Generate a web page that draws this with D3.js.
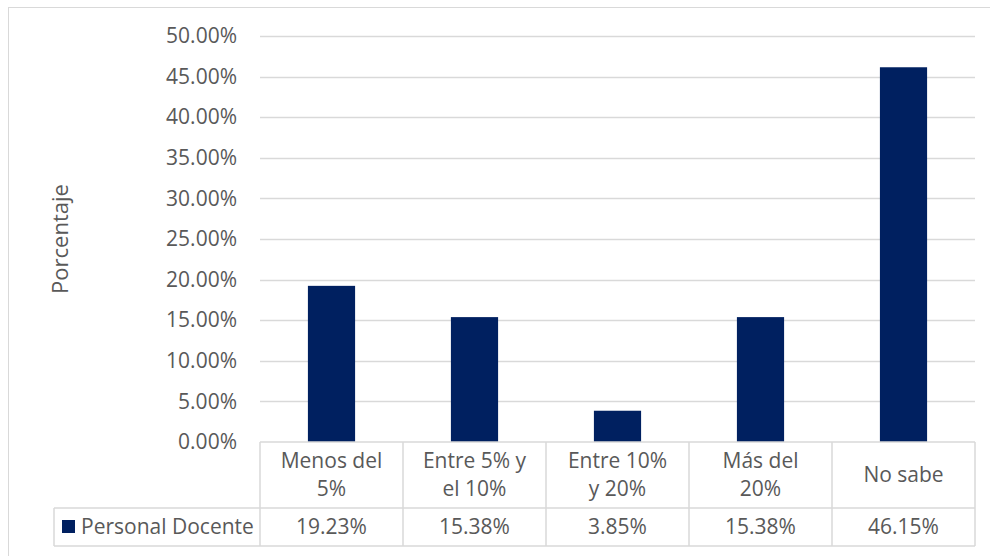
<!DOCTYPE html>
<html><head><meta charset="utf-8">
<script src="https://cdn.jsdelivr.net/npm/d3@7"></script>
<style>
html,body{margin:0;padding:0;background:#fff;}
svg{display:block;font-family:"Open Sans",sans-serif;}
</style></head>
<body><svg id="c" width="990" height="556"></svg>
<script>
const categories = [["Menos del","5%"],["Entre 5% y","el 10%"],["Entre 10%","y 20%"],["Más del","20%"],["No sabe"]];
const seriesName = "Personal Docente";
const values = [19.23, 15.38, 3.85, 15.38, 46.15];
const valueLabels = ["19.23%","15.38%","3.85%","15.38%","46.15%"];
const yTicks = [0,5,10,15,20,25,30,35,40,45,50];
const yTitle = "Porcentaje";

(function(){
const svg = d3.select("#c");
const textCol = "#595959", gridCol = "#d9d9d9", barCol = "#002060";
const fs = 21;

// outer chart border
svg.append("rect").attr("x",8.5).attr("y",7.5).attr("width",1000).attr("height",600)
  .attr("fill","#fff").attr("stroke",gridCol).attr("stroke-width",1);

const pL = 260, pR = 975, pT = 36, pB = 442;
const x = d3.scaleBand().domain(d3.range(categories.length)).range([pL,pR]).paddingInner(0).paddingOuter(0);
const y = d3.scaleLinear().domain([0,50]).range([pB,pT]);

// gridlines
svg.append("g").selectAll("line").data(yTicks.filter(d=>d>0)).join("line")
  .attr("x1",pL).attr("x2",pR)
  .attr("y1",d=>Math.round(y(d))+0.5).attr("y2",d=>Math.round(y(d))+0.5)
  .attr("stroke",gridCol).attr("stroke-width",1.5);

// y tick labels via axis
const yAxis = svg.append("g").attr("transform",`translate(${pL},0)`)
  .call(d3.axisLeft(y).tickValues(yTicks).tickSize(0).tickPadding(23).tickFormat(d=>d.toFixed(2)+"%"));
yAxis.select(".domain").remove();
yAxis.selectAll("text").attr("fill",textCol).style("font-size",fs+"px").style("font-family","'Open Sans',sans-serif");

// bars
const bw = x.bandwidth()*0.33;
svg.append("g").selectAll("rect").data(values).join("rect")
  .attr("x",(d,i)=>x(i)+x.bandwidth()/2-bw/2)
  .attr("width",bw)
  .attr("y",d=>y(d)).attr("height",d=>pB-y(d))
  .attr("fill",barCol);

// data table
const row1 = pB, row2 = 508, row3 = 546, legLeft = 54;
const tg = svg.append("g").attr("stroke",gridCol).attr("stroke-width",1.5).attr("fill","none");
tg.append("line").attr("x1",pL).attr("x2",pR).attr("y1",row1).attr("y2",row1);
tg.append("line").attr("x1",legLeft).attr("x2",pR).attr("y1",row2).attr("y2",row2);
tg.append("line").attr("x1",legLeft).attr("x2",pR).attr("y1",row3).attr("y2",row3);
tg.append("line").attr("x1",legLeft).attr("x2",legLeft).attr("y1",row2).attr("y2",row3);
tg.selectAll("line.v").data(d3.range(categories.length+1)).join("line").attr("class","v")
  .attr("x1",i=>i<categories.length?x(i):pR).attr("x2",i=>i<categories.length?x(i):pR)
  .attr("y1",row1).attr("y2",row3);

// category labels
const cg = svg.append("g").attr("fill",textCol).style("font-size",fs+"px").attr("text-anchor","middle");
categories.forEach((lines,i)=>{
  const cx = x(i)+x.bandwidth()/2;
  const lh = 28;
  const mid = (row1+row2)/2;
  const start = mid - (lines.length-1)*lh/2;
  lines.forEach((t,j)=>{
    cg.append("text").attr("x",cx).attr("y",start+j*lh).attr("dy","0.35em").text(t);
  });
});

// values row
svg.append("g").attr("fill",textCol).style("font-size",fs+"px").attr("text-anchor","middle")
  .selectAll("text").data(valueLabels).join("text")
  .attr("x",(d,i)=>x(i)+x.bandwidth()/2).attr("y",(row2+row3)/2).attr("dy","0.35em").text(d=>d);

// legend key in table
svg.append("rect").attr("x",62).attr("y",520).attr("width",13).attr("height",13).attr("fill",barCol);
svg.append("text").attr("x",81).attr("y",(row2+row3)/2).attr("dy","0.35em").attr("fill",textCol)
  .style("font-size",fs+"px").text(seriesName);

// y title
svg.append("text").attr("transform","translate(60,239) rotate(-90)").attr("text-anchor","middle")
  .attr("dy","0.35em").attr("fill",textCol).style("font-size","22px").text(yTitle);
})();
</script></body></html>
